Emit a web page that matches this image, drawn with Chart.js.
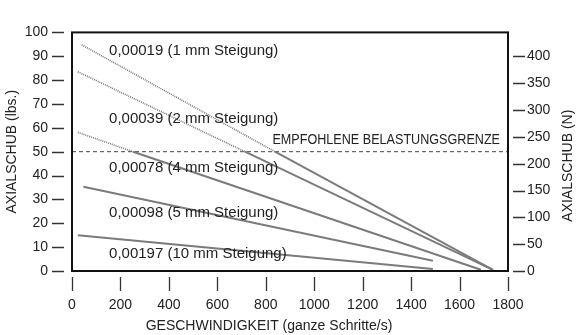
<!DOCTYPE html>
<html>
<head>
<meta charset="utf-8">
<script src="https://cdn.jsdelivr.net/npm/chart.js@4.4.0/dist/chart.umd.min.js"></script>
<style>
  html, body { margin: 0; padding: 0; background: #fff; }
  #wrap { width: 579px; height: 335px; }
</style>
</head>
<body>
<div id="wrap"><canvas id="thrustChart" width="579" height="335"></canvas></div>
<script>
// values
var leadLabels = ['0,00019 (1 mm Steigung)', '0,00039 (2 mm Steigung)', '0,00078 (4 mm Steigung)', '0,00098 (5 mm Steigung)', '0,00197 (10 mm Steigung)'];
var lead1X = [40, 838, 1738];
var lead1Y = [94.8, 50, 0.5];
var lead2X = [24, 714, 1738];
var lead2Y = [83.5, 50, 0.5];
var lead4X = [24, 252, 1688];
var lead4Y = [58.1, 50, 0.5];
var lead5X = [47, 1490];
var lead5Y = [35.3, 4.3];
var lead10X = [24, 1490];
var lead10Y = [15, 0.8];
var limitLbs = 50;
var limitLabel = 'EMPFOHLENE BELASTUNGSGRENZE';
var lbsToN = 4.448;

var xTicks = [0, 200, 400, 600, 800, 1000, 1200, 1400, 1600, 1800];

// where the texts sit, in data units (x = left edge, y = middle)
var labelSpots = [[153, 92.2], [153, 63.7], [153, 43.4], [153, 24.2], [153, 7.0]];

var FONT = 'Liberation Sans';

function pts(xs, ys) {
    return xs.map(function (x, i) { return { x: x, y: ys[i] }; });
}

function above(ctx) { return ctx.p0.parsed.y > limitLbs + 0.01; }

function leadSet(xs, ys) {
    return {
        data: pts(xs, ys),
        borderColor: '#7b7b7b',
        borderWidth: 2,
        pointRadius: 0,
        tension: 0,
        segment: {
            borderDash: function (ctx) { return above(ctx) ? [1, 1] : undefined; },
            borderWidth: function (ctx) { return above(ctx) ? 1.6 : 2; },
            borderColor: function (ctx) { return above(ctx) ? '#777' : '#7b7b7b'; }
        }
    };
}

var decor = {
    id: 'decor',
    afterDatasetsDraw: function (chart) {
        var c = chart.ctx, a = chart.chartArea;
        var sx = chart.scales.x, sy = chart.scales.y, sn = chart.scales.yN;
        c.save();
        c.fillStyle = '#222';
        c.textBaseline = 'middle';
        c.font = '15px "' + FONT + '"';
        leadLabels.forEach(function (t, i) {
            c.fillText(t, sx.getPixelForValue(labelSpots[i][0]), sy.getPixelForValue(labelSpots[i][1]));
        });
        // condensed caps label
        c.save();
        c.translate(a.right - 8, sy.getPixelForValue(limitLbs) - 12);
        c.scale(0.84, 1);
        c.textAlign = 'right';
        c.fillText(limitLabel, 0, 0);
        c.restore();

        // frame
        c.strokeStyle = '#111';
        c.lineWidth = 2;
        c.strokeRect(a.left, a.top, a.right - a.left, a.bottom - a.top);

        // detached tick marks
        c.strokeStyle = '#333';
        c.lineWidth = 1.3;
        c.beginPath();
        sy.ticks.forEach(function (t) {
            var y = Math.round(sy.getPixelForValue(t.value)) + 0.5;
            c.moveTo(a.left - 20, y); c.lineTo(a.left - 8, y);
        });
        sn.ticks.forEach(function (t) {
            var y = Math.round(sn.getPixelForValue(t.value)) + 0.5;
            c.moveTo(a.right + 5, y); c.lineTo(a.right + 17, y);
        });
        sx.ticks.forEach(function (t) {
            var x = Math.round(sx.getPixelForValue(t.value)) + 0.5;
            c.moveTo(x, a.bottom + 6); c.lineTo(x, a.bottom + 20);
        });
        c.stroke();

        // axis titles
        c.font = '14px "' + FONT + '"';
        c.textAlign = 'center';
        c.fillText('GESCHWINDIGKEIT (ganze Schritte/s)', a.left + 197, a.bottom + 55);
        c.save();
        c.translate(a.right + 60, (a.top + a.bottom) / 2 + 14);
        c.rotate(-Math.PI / 2);
        c.fillText('AXIALSCHUB (N)', 0, 0);
        c.restore();
        c.restore();
    }
};

var ctx = document.getElementById('thrustChart').getContext('2d');
var myChart = new Chart(ctx, {
    type: 'line',
    data: {
        datasets: [
            leadSet(lead1X, lead1Y),
            leadSet(lead2X, lead2Y),
            leadSet(lead4X, lead4Y),
            leadSet(lead5X, lead5Y),
            leadSet(lead10X, lead10Y),
            {
                data: pts([0, 1800], [limitLbs, limitLbs]),
                borderColor: '#444',
                borderWidth: 1,
                borderDash: [4, 3],
                pointRadius: 0
            }
        ]
    },
    options: {
        responsive: false,
        animation: false,
        layout: { padding: { top: 15, left: 0, right: 0, bottom: 0 } },
        plugins: {
            legend: { display: false },
            tooltip: { enabled: false }
        },
        scales: {
            x: {
                type: 'linear',
                position: 'bottom',
                min: 0,
                max: 1800,
                afterBuildTicks: function (s) { s.ticks = xTicks.map(function (v) { return { value: v }; }); },
                ticks: {
                    color: '#222', font: { family: FONT, size: 14 }, padding: 26, maxRotation: 0, autoSkip: false,
                    callback: function (v) { return String(v); }
                },
                grid: { display: false, drawTicks: false },
                border: { display: false },
                afterFit: function (s) { s.height = 64; }
            },
            y: {
                position: 'left',
                min: 0,
                max: 100,
                ticks: { stepSize: 10, color: '#222', font: { family: FONT, size: 14 }, padding: 24 },
                grid: { display: false, drawTicks: false },
                border: { display: false },
                title: { display: true, text: 'AXIALSCHUB (lbs.)', color: '#222', font: { family: FONT, size: 14 }, padding: { top: 4, bottom: 0 } },
                afterFit: function (s) { s.width = 72; }
            },
            yN: {
                position: 'right',
                min: 0,
                max: 100 * lbsToN,
                afterBuildTicks: function (s) { s.ticks = s.ticks.filter(function (t) { return t.value <= 400; }); },
                ticks: { stepSize: 50, color: '#222', font: { family: FONT, size: 14 }, padding: 19 },
                grid: { display: false, drawTicks: false },
                border: { display: false },
                afterFit: function (s) { s.width = 71; }
            }
        }
    },
    plugins: [decor]
});
</script>
</body>
</html>
